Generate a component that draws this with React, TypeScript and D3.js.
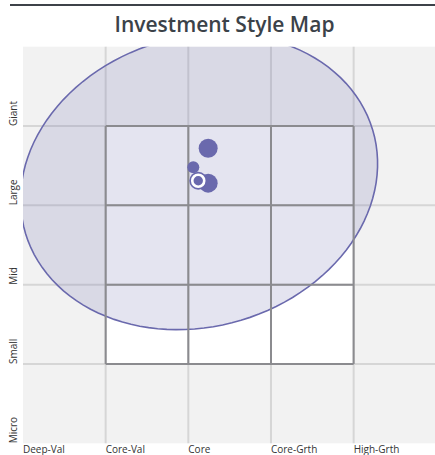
import React from "react"
import * as d3 from "d3"

// style map axes, left to right / bottom to top
const xLabels = ["Deep-Val", "Core-Val", "Core", "Core-Grth", "High-Grth"]
const yLabels = ["Micro", "Small", "Mid", "Large", "Giant"]

// ownership zone (style units, y up)
const zoneCenter = [2.13, 3.3]
const zoneRadii = [2.2, 1.82]
const zoneAngle = 19.8

// holdings dots
const holdX = [2.24, 2.06, 2.24]
const holdY = [3.72, 3.48, 3.28]
const holdWeight = [25, 10, 25]

// current portfolio centroid
const current = [2.12, 3.31]

const W = 435
const H = 455
const margin = { top: 46.7, right: -1.3, bottom: 11.7, left: 23 }
const purple = "#6a69ad"

const App = () => {
	const x = d3
		.scaleLinear()
		.domain([0, xLabels.length])
		.range([margin.left, W - margin.right])
	const y = d3
		.scaleLinear()
		.domain([0, yLabels.length])
		.range([H - margin.bottom, margin.top])
	const r = d3.scaleSqrt().domain([0, 25]).range([0, 9.5])

	// zone outline, built in style units then mapped through the scales
	const a = (zoneAngle * Math.PI) / 180
	const pts = d3.range(0, 361, 3).map((deg) => {
		const t = (deg * Math.PI) / 180
		const ex = zoneRadii[0] * Math.cos(t)
		const ey = zoneRadii[1] * Math.sin(t)
		return [
			zoneCenter[0] + ex * Math.cos(a) - ey * Math.sin(a),
			zoneCenter[1] + ex * Math.sin(a) + ey * Math.cos(a),
		]
	})
	const zonePath = d3
		.line()
		.x((d) => x(d[0]))
		.y((d) => y(d[1]))
		.curve(d3.curveLinearClosed)(pts)

	const ticks = d3.range(1, xLabels.length)
	const yTicks = d3.range(1, yLabels.length)
	const boxLines = [1, 2, 3, 4]

	return (
		<div style={{ position: "absolute", left: 0, top: 0 }}>
			<svg width={W} height={H} style={{ display: "block" }} fontFamily="'Open Sans', sans-serif">
				<defs>
					<clipPath id="plot-clip">
						<rect x={x(0)} y={y(5)} width={x(5) - x(0)} height={y(0) - y(5)} />
					</clipPath>
				</defs>
				<line x1={10} x2={W} y1={5} y2={5} stroke="#3d4249" strokeWidth={2} />
				<text x={224.5} y={32} textAnchor="middle" fontSize={21} fontWeight={600} fill="#3b4249">
					Investment Style Map
				</text>

				{/* background and style box */}
				<rect x={x(0)} y={y(5)} width={x(5) - x(0)} height={y(0) - y(5)} fill="#f2f2f2" />
				<rect x={x(1)} y={y(4)} width={x(4) - x(1)} height={y(1) - y(4)} fill="#ffffff" />

				{/* light grid */}
				<g stroke="#d6d6d6" strokeWidth={2}>
					{ticks.map((t) => (
						<line key={"gx" + t} x1={x(t)} x2={x(t)} y1={y(5)} y2={y(0)} />
					))}
					{yTicks.map((t) => (
						<line key={"gy" + t} x1={x(0)} x2={x(5)} y1={y(t)} y2={y(t)} />
					))}
				</g>

				<path
					d={zonePath}
					clipPath="url(#plot-clip)"
					fill={purple}
					fillOpacity={0.18}
					stroke={purple}
					strokeWidth={1.6}
				/>

				{/* 3x3 style box */}
				<g stroke="#8b8b8f" strokeWidth={2}>
					{boxLines.map((t) => (
						<line key={"bx" + t} x1={x(t)} x2={x(t)} y1={y(4)} y2={y(1)} />
					))}
					{boxLines.map((t) => (
						<line key={"by" + t} x1={x(1)} x2={x(4)} y1={y(t)} y2={y(t)} />
					))}
				</g>

				{holdX.map((d, i) => (
					<circle key={"h" + i} cx={x(d)} cy={y(holdY[i])} r={r(holdWeight[i])} fill={purple} />
				))}
				<circle cx={x(current[0])} cy={y(current[1])} r={9} fill={purple} />
				<circle cx={x(current[0])} cy={y(current[1])} r={6} fill={purple} stroke="#ffffff" strokeWidth={2.6} />

				{/* axis labels */}
				<g fontSize={10} fill="#333">
					{xLabels.map((l, i) => (
						<text key={l} x={x(i)} y={452.5}>
							{l}
						</text>
					))}
					{yLabels.map((l, i) => (
						<text key={l} transform={`translate(17,${y(i)}) rotate(-90)`}>
							{l}
						</text>
					))}
				</g>
			</svg>
		</div>
	)
}

export default App
